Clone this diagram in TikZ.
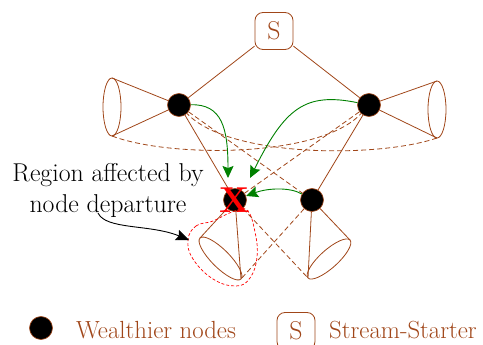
\documentclass[tikz,border=0pt]{standalone}
\usetikzlibrary{arrows.meta}
\definecolor{brn}{RGB}{160,70,25}
\definecolor{grn}{RGB}{0,128,0}
\begin{document}
\begin{tikzpicture}[x=1pt,y=-1pt,
  wn/.style={circle,fill=black,draw=brn,line width=0.6pt,minimum size=23pt,inner sep=0pt},
  ssbox/.style={draw=brn,line width=0.8pt,rounded corners=8pt,minimum width=38pt,minimum height=37pt,inner sep=0pt,text=brn,font=\fontsize{25.8}{30}\selectfont},
  ln/.style={draw=brn,line width=0.8pt},
  dl/.style={draw=brn,line width=0.8pt,dash pattern=on 5pt off 3pt},
  ga/.style={draw=grn,line width=0.9pt,-{Stealth[length=12pt,width=11pt,inset=2pt]}},
  txt/.style={font=\fontsize{25.8}{30}\selectfont,inner sep=0pt},
  legtxt/.style={font=\fontsize{24.8}{30}\selectfont,inner sep=0pt,text=brn,anchor=base west}]
\useasboundingbox (0,0) rectangle (483,345);

% nodes
\node[ssbox] (S) at (274,31) {S};
\node[wn] (L) at (179,105) {};
\node[wn] (R) at (369,105) {};
\node[wn] (D) at (235,200) {};
\node[wn] (T) at (312,200) {};

% cone coordinates
\coordinate (lcc) at (112,107);
\coordinate (lct) at (112,78);
\coordinate (lcb) at (112,136);
\coordinate (rcc) at (437,109.5);
\coordinate (rct) at (437,81);
\coordinate (rcb) at (437,138);
\coordinate (llc) at (220.5,258.5);
\coordinate (llA) at (200,238);
\coordinate (llB) at (241,279);
\coordinate (lrc) at (329,259);
\coordinate (lrA) at (308,278);
\coordinate (lrB) at (350,240);

% cones
\draw[ln] (lcc) ellipse [x radius=9pt, y radius=29pt];
\draw[ln] (rcc) ellipse [x radius=9pt, y radius=28.5pt];
\draw[ln,rotate around={-45:(llc)}] (llc) ellipse [x radius=29pt, y radius=9pt];
\draw[ln,rotate around={42:(lrc)}] (lrc) ellipse [x radius=28.3pt, y radius=9pt];
\draw[ln] (L) -- (lct);
\draw[ln] (L) -- (lcb);
\draw[ln] (R) -- (rct);
\draw[ln] (R) -- (rcb);
\draw[ln] (D) -- (llA);
\draw[ln] (D) -- (llB);
\draw[ln] (T) -- (lrA);
\draw[ln] (T) -- (lrB);

% solid links
\draw[ln] (S) -- (L);
\draw[ln] (S) -- (R);
\draw[ln] (L) -- (D);
\draw[ln] (R) -- (T);

% dashed links
\draw[dl] (L) -- (T);
\draw[dl] (R) -- (D);
\draw[dl] (D) -- (lrA);
\draw[dl] (T) -- (llB);
\draw[dl] (lcb) .. controls (170,158) and (320,158) .. (R);
\draw[dl] (rcb) .. controls (379,158) and (229,158) .. (L);

% green arrows
\coordinate (g1) at (228,178);
\coordinate (g2) at (250,178);
\draw[ga] (L) .. controls (222,104) and (228,128) .. (g1);
\draw[ga] (R) .. controls (305,92) and (285,108) .. (g2);
\draw[ga] (T) .. controls (290,187) and (268,188) .. (D);

% red region
\draw[red,line width=0.7pt,dash pattern=on 3pt off 2pt] plot[smooth cycle,tension=0.7] coordinates {(188,240) (196,226) (213,221) (232,212) (247,210) (255,232) (257,257) (250,278) (236,286) (213,279) (193,259)};
\node[text=red,font=\fontsize{36}{36}\selectfont\bfseries,inner sep=0pt] (xmark) at (D) {X};

% label
\node[txt,anchor=base] (t1) at (108,182) {Region affected by};
\node[txt,anchor=base] (t2) at (108,212) {node departure};
\coordinate (bs) at (98,213);
\coordinate (be) at (189,240);
\draw[line width=0.9pt,-{Stealth[length=13pt,width=11pt,inset=2pt]}] (bs) .. controls (106,230) and (150,224) .. (be);

% legend
\node[wn] (lg) at (41,328) {};
\node[legtxt] (lgt) at (76,338) {Wealthier nodes};
\node[ssbox] (ls) at (296,331) {S};
\node[legtxt] (lst) at (329,338) {Stream-Starter};
\end{tikzpicture}
\end{document}
